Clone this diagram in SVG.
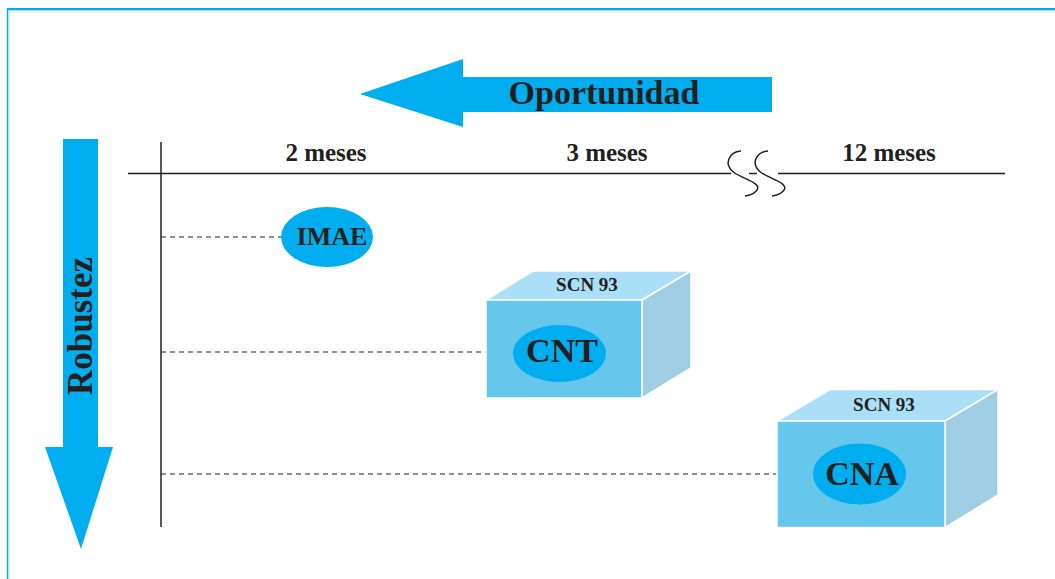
<svg xmlns="http://www.w3.org/2000/svg" width="1055" height="579" viewBox="0 0 1055 579">
<style>
.lbl{font-family:"Liberation Serif","Times New Roman",serif;font-weight:bold;fill:#231f20;text-anchor:middle}
.axis{stroke:#231f20;stroke-width:1.5;fill:none}
.dash{stroke:#231f20;stroke-width:1;stroke-dasharray:5 4;fill:none}
.cyan{fill:#00aeef}
.top{fill:#aadff7;stroke:#fff;stroke-width:1.5}
.front{fill:#66c6ec;stroke:#fff;stroke-width:1.5}
.side{fill:#9fcde3;stroke:#fff;stroke-width:1.5}
</style>
<rect width="1055" height="579" fill="#fff"/>
<g id="frame">
<line x1="7" y1="9" x2="1055" y2="9" stroke="#00aeef" stroke-width="2"/>
<line x1="9" y1="10.5" x2="1055" y2="10.5" stroke="#a6e2f8" stroke-width="1"/>
<line x1="7.5" y1="8" x2="7.5" y2="579" stroke="#00aeef" stroke-width="1.5"/>
<line x1="9" y1="10" x2="9" y2="579" stroke="#a6e2f8" stroke-width="1"/>
</g>
<g id="oportunidad">
<polygon class="cyan" points="360,94 463,59 463,77 772,77 772,112 463,112 463,127"/>
<text class="lbl" x="604" y="104" font-size="34">Oportunidad</text>
</g>
<g id="robustez">
<polygon class="cyan" points="63,139 98,139 98,447 113,447 81,549 45,447 63,447"/>
<text class="lbl" transform="translate(92,326) rotate(-90)" x="0" y="0" font-size="35">Robustez</text>
</g>
<g id="axes">
<line class="axis" x1="161" y1="142" x2="161" y2="527"/>
<line class="axis" x1="128" y1="173.5" x2="731" y2="173.5"/>
<line class="axis" x1="749" y1="173.5" x2="757" y2="173.5"/>
<line class="axis" x1="778" y1="173.5" x2="1005" y2="173.5"/>
<path class="axis" d="M741,151 C729,152 723,164 734,172.5 C743,179 762,183 757,190 C754,194 750,195.5 745,196"/>
<path class="axis" d="M768,151 C756,152 750,164 761,172.5 C770,179 789,183 784,190 C781,194 777,195.5 772,196"/>
<text class="lbl" x="326" y="161" font-size="25">2 meses</text>
<text class="lbl" x="607" y="161" font-size="25">3 meses</text>
<text class="lbl" x="889" y="161" font-size="25">12 meses</text>
</g>
<g id="connectors">
<line class="dash" x1="161" y1="237" x2="281" y2="237"/>
<line class="dash" x1="161" y1="352" x2="486" y2="352"/>
<line class="dash" x1="161" y1="474" x2="777" y2="474"/>
</g>
<g id="imae">
<ellipse class="cyan" cx="327" cy="237" rx="46" ry="30"/>
<text class="lbl" x="332" y="245" font-size="26">IMAE</text>
</g>
<g id="cnt">
<polygon class="top" points="486,300 533,271 691,271 642,300"/>
<polygon class="side" points="642,300 691,271 691,368 642,398"/>
<rect class="front" x="486" y="300" width="156" height="98"/>
<text class="lbl" x="587" y="291" font-size="19">SCN 93</text>
<ellipse class="cyan" cx="559.5" cy="353.5" rx="46.5" ry="28.5"/>
<text class="lbl" x="562" y="362" font-size="34">CNT</text>
</g>
<g id="cna">
<polygon class="top" points="777,421 830,389.5 998,389.5 945,421"/>
<polygon class="side" points="945,421 998,389.5 998,495 945,527.5"/>
<rect class="front" x="777" y="421" width="168" height="106.5"/>
<text class="lbl" x="884" y="411" font-size="19">SCN 93</text>
<ellipse class="cyan" cx="859.5" cy="474" rx="46.5" ry="30.5"/>
<text class="lbl" x="862" y="484.5" font-size="34">CNA</text>
</g>
</svg>
